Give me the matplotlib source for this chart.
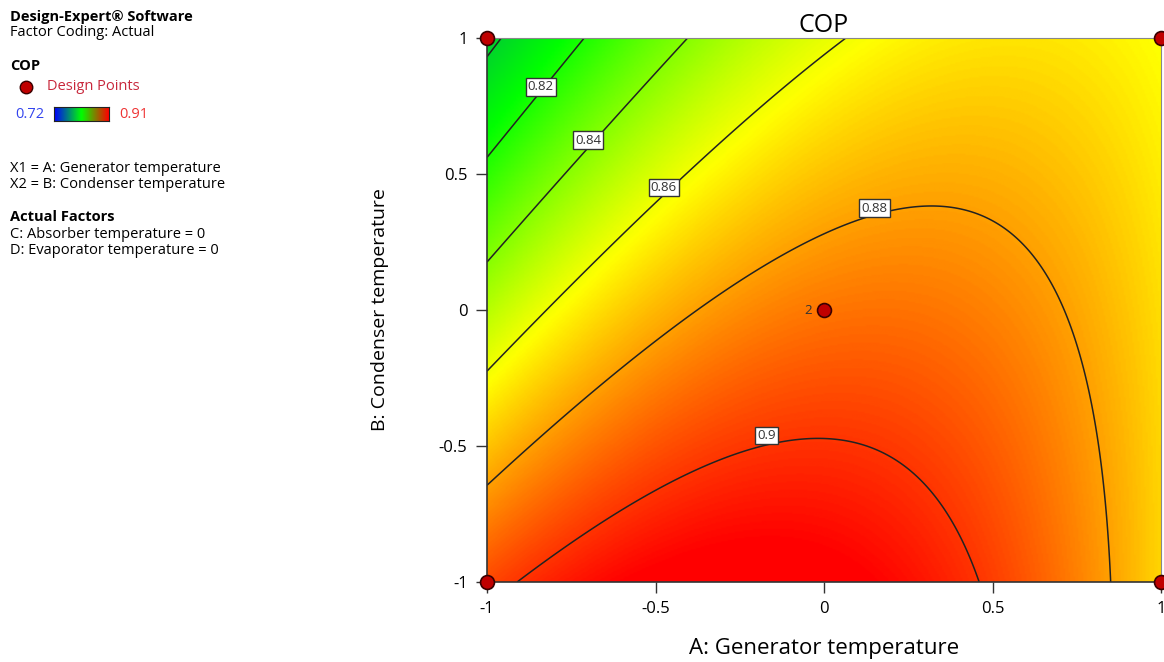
import numpy as np
import matplotlib.pyplot as plt
from matplotlib.colors import LinearSegmentedColormap

# Modelo cuadratico COP(A, B) (C = D = 0)
b0 = 0.8878
b1 = 0.0098    # A
b2 = -0.0271   # B
b11 = -0.0291  # A^2
b22 = -0.0027  # B^2
b12 = 0.0229   # AB

cop_min = 0.72
cop_max = 0.91
levels = [0.80, 0.82, 0.84, 0.86, 0.88, 0.90]
label_levels = [0.82, 0.84, 0.86, 0.88, 0.90]

# Puntos de diseño
design_A = [-1, 1, -1, 1, 0]
design_B = [1, 1, -1, -1, 0]
center_label = '2'

ticks = [-1, -0.5, 0, 0.5, 1]
tick_labels = ['-1', '-0.5', '0', '0.5', '1']

plt.rcParams['font.family'] = ['Open Sans', 'DejaVu Sans']

# Superficie
A = np.linspace(-1, 1, 400)
B = np.linspace(-1, 1, 400)
AA, BB = np.meshgrid(A, B)
COP = b0 + b1*AA + b2*BB + b11*AA**2 + b22*BB**2 + b12*AA*BB

cmap = LinearSegmentedColormap.from_list(
    'de', [(0.0, '#0000ff'), (0.5, '#00ff00'), (0.75, '#ffff00'), (1.0, '#ff0000')])

W, H = 1164, 662
fig = plt.figure(figsize=(W/100, H/100), dpi=100)
ax = fig.add_axes([487/W, 1 - 582/H, (1161-487)/W, (582-38)/H])

ax.imshow(COP, extent=(-1, 1, -1, 1), origin='lower', cmap=cmap,
          vmin=cop_min, vmax=cop_max, aspect='auto', interpolation='bilinear')
cs = ax.contour(AA, BB, COP, levels=levels, colors='#222222', linewidths=1.1)

# Etiquetas de contorno (cajas blancas, horizontales)
label_pos = [(-0.84, 0.82), (-0.70, 0.625), (-0.475, 0.45), (0.15, 0.375), (-0.17, -0.46)]
for lev, (x, y) in zip(label_levels, label_pos):
    ax.text(x, y, f'{lev:g}', ha='center', va='center', fontsize=9.5, color='#333333',
            bbox=dict(facecolor='white', edgecolor='#333333', pad=1.5, linewidth=1),
            zorder=4)

# Puntos
ax.plot(design_A, design_B, 'o', markersize=10, markerfacecolor='#c00000',
        markeredgecolor='#3a0000', markeredgewidth=1.2, clip_on=False, zorder=5)
ax.text(-0.035, 0, center_label, ha='right', va='center', fontsize=9.5, color='#333333')

ax.set_xlim(-1, 1)
ax.set_ylim(-1, 1)
ax.set_xticks(ticks, tick_labels, fontsize=12)
ax.set_yticks(ticks, tick_labels, fontsize=12)
ax.tick_params(length=8, width=1, color='#333333', pad=6)
for s in ['top', 'right']:
    ax.spines[s].set_color('#888888')
    ax.spines[s].set_linewidth(0.8)
for s in ['left', 'bottom']:
    ax.spines[s].set_color('#333333')
    ax.spines[s].set_linewidth(1.2)

ax.set_title('COP', fontsize=18, pad=3)
ax.set_xlabel('A: Generator temperature', fontsize=16, labelpad=15)
ax.set_ylabel('B: Condenser temperature', fontsize=14, labelpad=36)

# Panel de leyenda a la izquierda
def ftext(x, y, s, **kw):
    fig.text(x/W, 1 - y/H, s, va='center', ha='left', **kw)

ftext(10, 17, 'Design-Expert® Software', fontsize=10.5, fontweight='bold')
ftext(10, 33, 'Factor Coding: Actual', fontsize=10.5)
ftext(10, 66, 'COP', fontsize=10.5, fontweight='bold')
fig.lines.append(plt.Line2D([26/W], [1 - 87/H], marker='o', markersize=9,
                            markerfacecolor='#c00000', markeredgecolor='#3a0000',
                            transform=fig.transFigure))
ftext(47, 87, 'Design Points', fontsize=10.5, color='#c8283c')
ftext(15, 114, f'{cop_min:g}', fontsize=10.5, color='#3344ee')
ftext(119, 114, f'{cop_max:g}', fontsize=10.5, color='#ee3333')
cax = fig.add_axes([54/W, 1 - 121/H, 55/W, 14/H])
cax.imshow(np.linspace(0, 1, 100)[None, :], aspect='auto',
           cmap=LinearSegmentedColormap.from_list('bar', ['#0000ff', '#00ff00', '#ff0000']))
cax.set_xticks([])
cax.set_yticks([])
for s in cax.spines.values():
    s.set_color('#222222')
ftext(10, 169, 'X1 = A: Generator temperature', fontsize=10.5)
ftext(10, 185, 'X2 = B: Condenser temperature', fontsize=10.5)
ftext(10, 217, 'Actual Factors', fontsize=10.5, fontweight='bold')
ftext(10, 235, 'C: Absorber temperature = 0', fontsize=10.5)
ftext(10, 251, 'D: Evaporator temperature = 0', fontsize=10.5)

fig.savefig('out.png', dpi=100)
